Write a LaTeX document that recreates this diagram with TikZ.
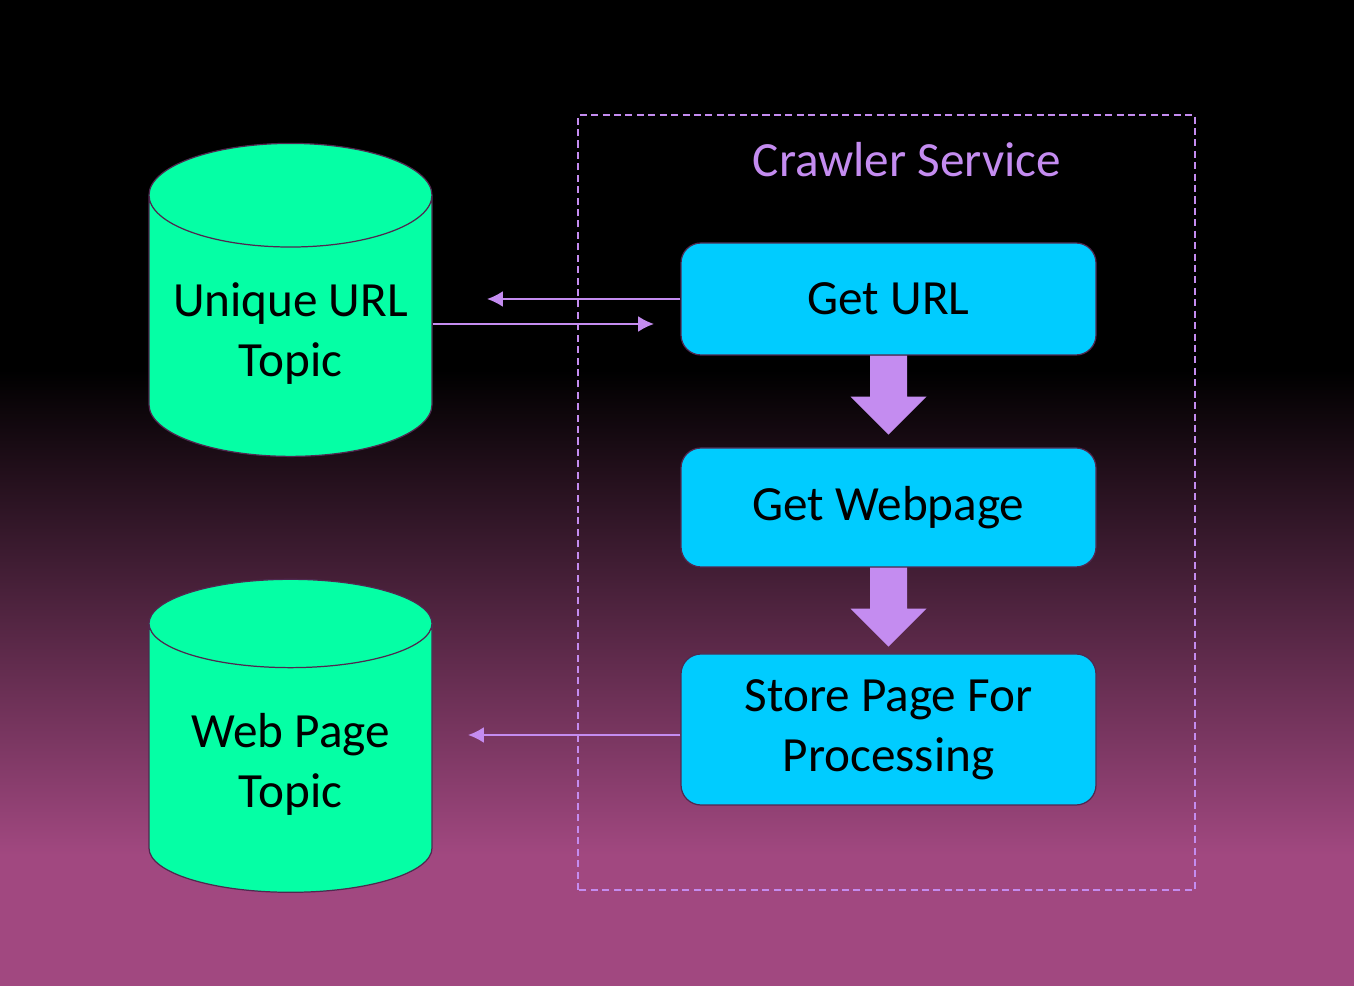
\documentclass[tikz,border=0pt]{standalone}
\usepackage{fontspec}
\setmainfont{Carlito}
\usetikzlibrary{arrows.meta,shapes.geometric,calc}

\definecolor{crawlcyan}{RGB}{0,204,255}
\definecolor{topicgreen}{RGB}{5,255,165}
\definecolor{lilac}{RGB}{196,140,240}
\definecolor{edgeplum}{RGB}{80,40,80}
\definecolor{bgplum}{RGB}{161,72,128}

\tikzset{
  stage/.style={draw=edgeplum,line width=0.7pt,fill=crawlcyan,rounded corners=0.4cm,
    minimum width=8.3cm,align=center,font=\fontsize{28}{34}\selectfont},
  topic/.style={cylinder,shape border rotate=90,draw=edgeplum,line width=0.7pt,fill=topicgreen,
    aspect=0.42,minimum width=5.66cm,minimum height=6.26cm,align=center,
    font=\fontsize{28}{34}\selectfont},
  flow/.style={->,draw=lilac,line width=1.1pt},
}

\begin{document}
\begin{tikzpicture}[>={Latex[length=9pt,width=9pt]}]
\useasboundingbox (0,0) rectangle (27.08,19.72);

% background
\fill[black] (0,12.32) rectangle (27.08,19.72);
\shade[top color=black,bottom color=bgplum] (0,2.62) rectangle (27.08,12.32);
\fill[bgplum] (0,0) rectangle (27.08,2.62);

% crawler service frame
\draw[lilac,line width=1.1pt,dash pattern=on 4pt off 2.5pt] (11.56,1.92) rectangle (23.9,17.42);
\node[text=lilac,font=\fontsize{28}{34}\selectfont] (crawler) at (18.14,16.52) {Crawler Service};

\node[stage,minimum height=2.24cm] (geturl) at (17.77,13.74) {Get URL};
\node[stage,minimum height=2.38cm] (getweb) at (17.77,9.57) {Get Webpage};
\node[stage,minimum height=3.02cm] (store) at (17.77,5.13) {Store Page For\\Processing};

% big arrows between the stages
\foreach \a in {geturl,getweb}{
  \fill[lilac] ($(\a.south)+(-0.37,0)$) -- ++(0,-0.82) -- ++(-0.39,0)
    -- ($(\a.south)+(0,-1.58)$) -- ($(\a.south)+(0.76,-0.82)$) -- ++(-0.39,0)
    -- ($(\a.south)+(0.37,0)$) -- cycle;
}

% topics
\node[topic] (urltopic) at (5.81,13.05) {Unique URL\\Topic};
\node[topic] (pagetopic) at (5.81,4.43) {Web Page\\Topic};

\coordinate (urlend) at (9.74,13.74);
\coordinate (urlback) at (13.08,13.24);
\coordinate (pageend) at (9.36,5.02);

\draw[flow] (geturl.west) -- (urlend);
\draw[flow] (urlback -| urltopic.east) -- (urlback);
\draw[flow] (store.west |- pageend) -- (pageend);

\end{tikzpicture}
\end{document}
